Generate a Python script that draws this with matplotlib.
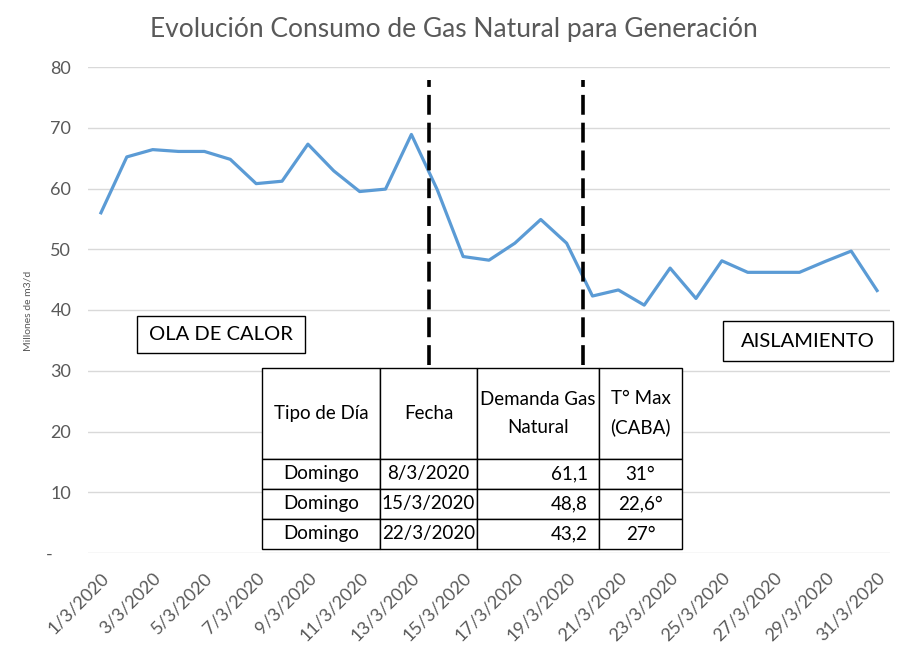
import matplotlib
matplotlib.use("Agg")
import matplotlib.pyplot as plt
from matplotlib.patches import Rectangle

plt.rcParams['font.family'] = ['Lato', 'DejaVu Sans']

# datos (millones de m3/d)
dias = list(range(1, 32))
consumo = [56.0, 65.2, 66.4, 66.1, 66.1, 64.8, 60.8, 61.2, 67.3, 62.9,
           59.5, 59.9, 68.9, 59.8, 48.8, 48.2, 51.0, 54.9, 51.0, 42.3,
           43.3, 40.8, 46.9, 41.9, 48.1, 46.2, 46.2, 46.2, 48.0, 49.7, 43.2]
etiquetas_x = [f"{d}/3/2020" for d in dias]
yticks = [0, 10, 20, 30, 40, 50, 60, 70, 80]
ytick_labels = ["-    ", "10", "20", "30", "40", "50", "60", "70", "80"]

# tabla
col_labels = ["Tipo de Día", "Fecha", "Demanda Gas\nNatural", "T° Max\n(CABA)"]
filas = [["Domingo", "8/3/2020", "61,1", "31°"],
         ["Domingo", "15/3/2020", "48,8", "22,6°"],
         ["Domingo", "22/3/2020", "43,2", "27°"]]

# lineas de corte (ola de calor / aislamiento)
cortes = [13.69, 19.62]

gris = "#595959"
fig = plt.figure(figsize=(9.08, 6.6), dpi=100)
ax = fig.add_axes([88/908, 1-553/660, 802/908, 486/660])

ax.plot(dias, consumo, color="#5B9BD5", linewidth=2.3, zorder=3)
ax.set_xlim(0.5, 31.5)
ax.set_ylim(0, 80)
ax.set_yticks(yticks)
ax.set_yticklabels(ytick_labels, color=gris, fontsize=13)
ax.set_xticks(dias[::2])
ax.set_xticklabels(etiquetas_x[::2], rotation=45, ha="right",
                   rotation_mode="anchor", color=gris, fontsize=13)
ax.tick_params(length=0)
ax.tick_params(axis="y", pad=12)
ax.tick_params(axis="x", pad=12)
ax.grid(axis="y", color="#D9D9D9", linewidth=1)
ax.set_axisbelow(True)
for s in ax.spines.values():
    s.set_visible(False)

for c in cortes:
    ax.plot([c, c], [31.0, 77.9], color="black", linewidth=2.6,
            linestyle=(0, (5.5, 2.2)), zorder=4)

fig.text(0.5, 1-30/660, "Evolución Consumo de Gas Natural para Generación",
         ha="center", va="center", fontsize=19, color=gris)
fig.text(28/908, 1-311/660, "Millones de m3/d", rotation=90, ha="center",
         va="center", fontsize=7.5, color=gris)

# cuadros de texto
for (x0, y0, x1, y1, txt) in [(137, 316, 305, 353, "OLA DE CALOR"),
                              (723, 321, 893, 361, "AISLAMIENTO")]:
    fig.add_artist(Rectangle((x0/908, 1-y1/660), (x1-x0)/908, (y1-y0)/660,
                             transform=fig.transFigure, facecolor="white",
                             edgecolor="black", linewidth=1, zorder=5))
    fig.text((x0+x1)/2/908, 1-(y0+y1)/2/660, txt, ha="center", va="center",
             fontsize=14.5, color="black", zorder=6)

tabla = ax.table(cellText=filas, colLabels=col_labels, cellLoc="center",
                 bbox=[(262-88)/802, (553-549)/486, 420/802, 181/486])
tabla.auto_set_font_size(False)
anchos = [118, 97, 122, 83]
for (r, c), cell in tabla.get_celld().items():
    cell.set_width(anchos[c])
    cell.set_height(91 if r == 0 else 30)
    cell.set_linewidth(1)
    cell.set_facecolor("white")
    cell.get_text().set_fontsize(13.5)
    cell.get_text().set_linespacing(1.75)
    if c == 2 and r > 0:
        cell._loc = "right"
        cell.PAD = 0.09
        cell.get_text().set_horizontalalignment("right")
tabla.set_zorder(5)

fig.savefig("out.png", dpi=100)
